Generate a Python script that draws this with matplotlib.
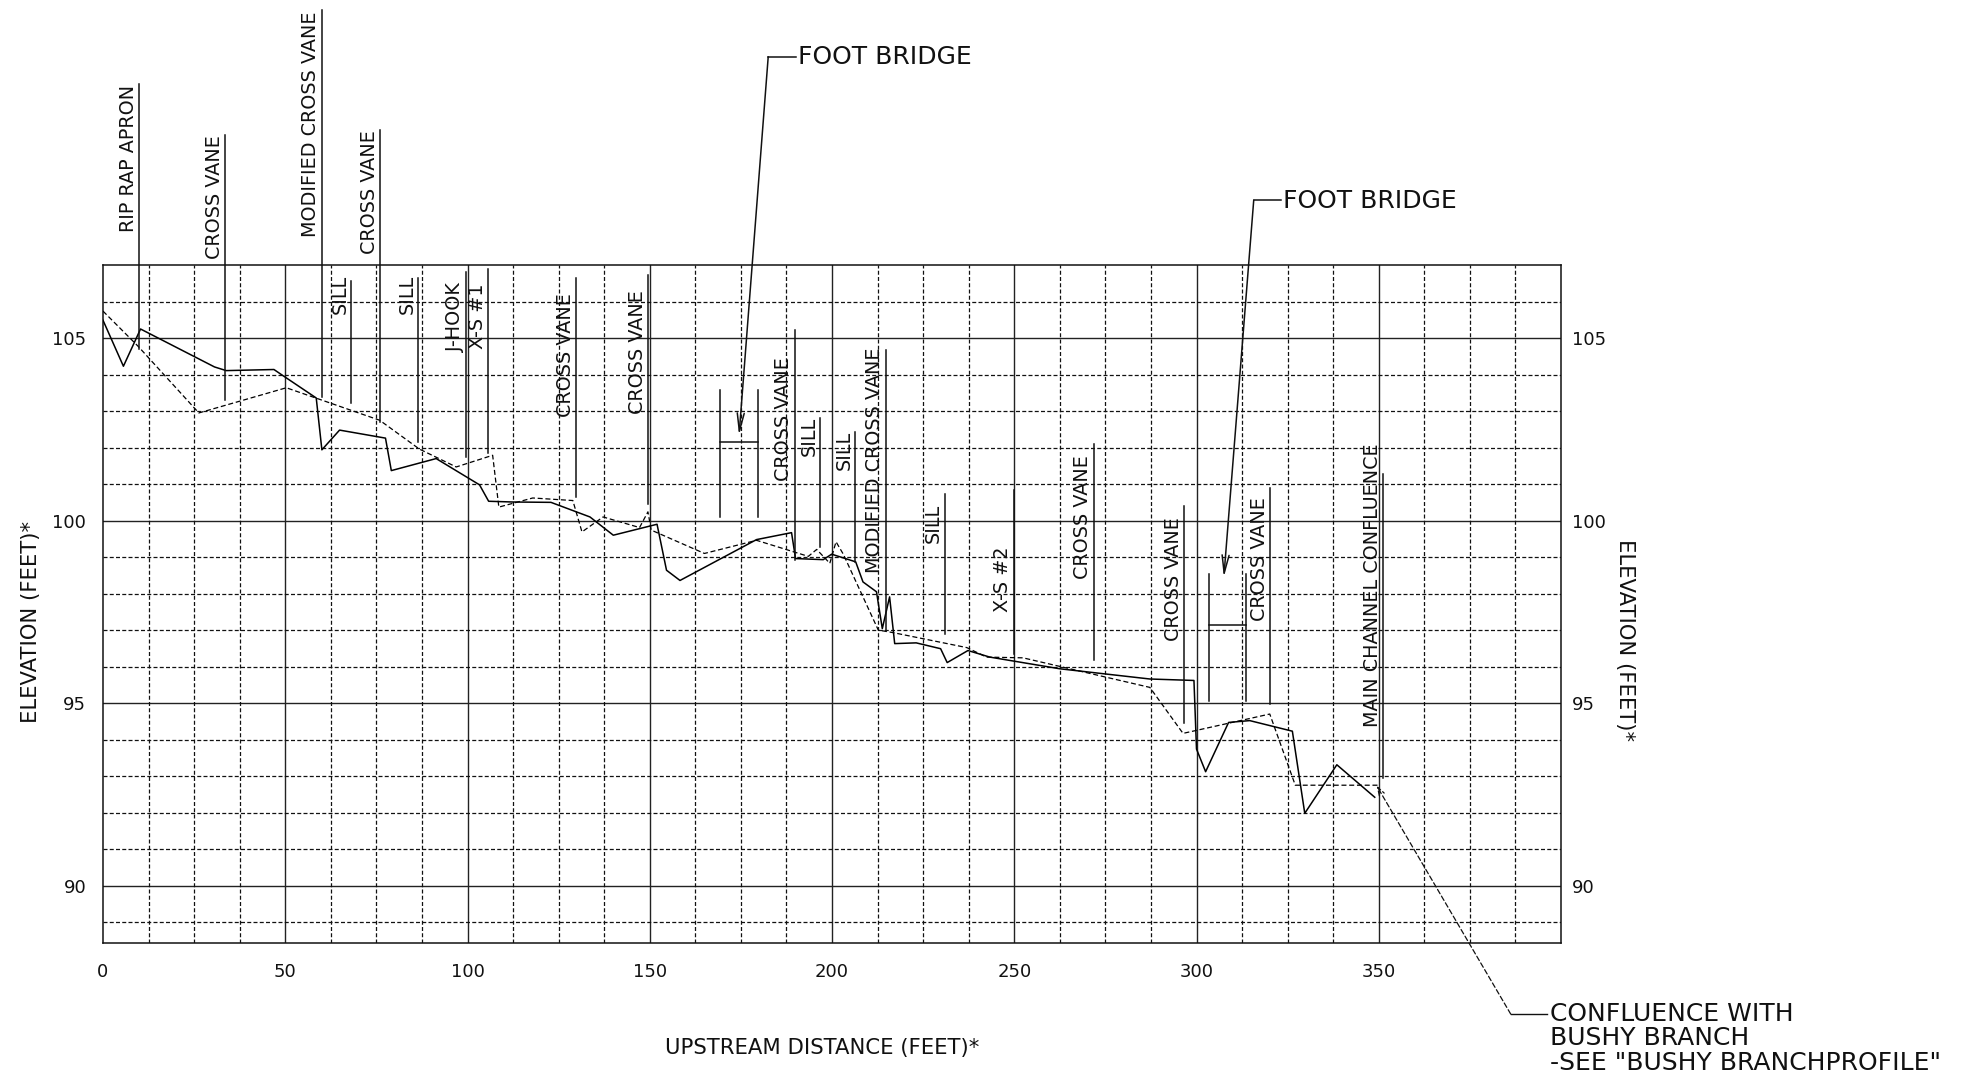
import matplotlib
matplotlib.use("Agg")
import matplotlib.pyplot as plt
import numpy as np

plt.rcParams['font.family'] = ['DejaVu Sans']

# Surveyed (existing) thalweg profile: upstream station (ft) vs elevation (ft)
existing_station = [0, 5.6, 10.3, 30.6, 33.8, 46.9, 49.4, 58.5, 60.05, 64.9,
                    77.5, 79.1, 91.4, 103.3, 105.8, 112.4, 122.9, 133.6, 140.0,
                    152.0, 154.6, 158.3, 179.3, 188.9, 190.0, 197.6, 199.9,
                    206.5, 208.5, 212.2, 213.8, 215.8, 217.2, 223.1, 229.8,
                    231.6, 237.3, 243.3, 262.5, 287.2, 299.3, 300.0, 302.5,
                    308.8, 314.6, 326.3, 329.7, 338.5, 348.9]
existing_elev = [105.50, 104.24, 105.26, 104.22, 104.12, 104.15, 103.98, 103.37,
                 101.95, 102.49, 102.27, 101.38, 101.71, 100.99, 100.54, 100.52,
                 100.51, 100.11, 99.61, 99.91, 98.65, 98.37, 99.49, 99.68, 98.97,
                 98.94, 99.09, 98.88, 98.33, 98.06, 97.05, 97.92, 96.64, 96.66,
                 96.50, 96.12, 96.45, 96.27, 95.95, 95.67, 95.63, 93.75, 93.13,
                 94.48, 94.53, 94.24, 91.99, 93.32, 92.43]

# Design (proposed) profile
proposed_station = [0, 9.6, 26.3, 50.3, 75.9, 86.8, 96.9, 106.9, 108.6, 117.9,
                    128.9, 131.4, 137.2, 147.2, 149.5, 150.4, 165.0, 179.3,
                    193.5, 195.8, 199.4, 201.1, 203.1, 212.7, 216.8, 237.0,
                    242.4, 252.4, 287.2, 296.3, 320.1, 327.1, 350.2]
proposed_elev = [105.75, 104.79, 102.96, 103.65, 102.76, 101.97, 101.48, 101.80,
                 100.38, 100.63, 100.56, 99.70, 100.11, 99.82, 100.25, 99.75,
                 99.11, 99.47, 99.03, 99.22, 98.84, 99.43, 99.09, 97.01, 96.94,
                 96.53, 96.27, 96.25, 95.44, 94.18, 94.71, 92.76, 92.76]

x_tick_values = [0, 50, 100, 150, 200, 250, 300, 350]
y_tick_values = [90, 95, 100, 105]

# In-stream structures and their stations
structure_names = ["RIP RAP APRON", "CROSS VANE", "MODIFIED CROSS VANE", "CROSS VANE",
                   "SILL", "SILL", "J-HOOK", "X-S #1", "CROSS VANE", "CROSS VANE",
                   "CROSS VANE", "SILL", "SILL", "MODIFIED CROSS VANE", "SILL",
                   "X-S #2", "CROSS VANE", "CROSS VANE", "CROSS VANE",
                   "MAIN CHANNEL CONFLUENCE"]
structure_station = [10.0, 33.6, 60.0, 76.0, 68.0, 86.4, 99.6, 105.7, 129.9, 149.6,
                     189.8, 196.8, 206.4, 214.8, 230.9, 249.9, 271.8, 296.6, 320.3,
                     351.2]
# leader extents (elevation) and top of each label
leader_top = [111.96, 110.57, 114.0, 110.71, 106.57, 106.65, 106.83, 106.9, 106.65,
              106.74, 105.23, 102.81, 102.44, 104.68, 100.75, 100.84, 102.12,
              100.4, 100.91, 101.3]
leader_bottom = [104.7, 103.31, 103.4, 102.72, 103.22, 102.17, 101.76, 101.85,
                 100.66, 100.47, 98.92, 99.29, 98.88, 97.0, 96.9, 96.36, 96.18,
                 94.46, 94.99, 92.97]
label_top = [111.96, 110.57, 113.95, 110.71, 106.74, 106.74, 106.51, 106.51, 106.24,
             106.33, 104.5, 102.86, 102.48, 104.74, 100.48, 99.29, 101.8, 100.11,
             100.66, 102.12]

# Foot bridges: span (stations), deck elevation, rail extents
bridge_left = [169.4, 303.4]
bridge_right = [179.7, 313.7]
bridge_deck = [102.17, 97.14]
bridge_low = [100.11, 95.08]
bridge_high = [103.59, 98.54]
# callout: arrow tip, leader elbow, text anchor
bridge_tip = [(174.5, 102.35), (307.5, 98.46)]
bridge_elbow = [(182.5, 112.72), (315.7, 108.79)]
bridge_text = [(190.7, 112.70), (323.7, 108.76)]

fig = plt.figure(figsize=(19.66, 10.8), dpi=100)
ax = fig.add_axes([0.05239, 0.12731, 0.74161, 0.62686])
ax.set_xlim(0, 400)
ax.set_ylim(88.45, 107)

# grid: solid at 50 ft / 5 ft, dashed at 12.5 ft / 1 ft
major_x = np.arange(0, 401, 50)
minor_x = [v for v in np.arange(0, 400.1, 12.5) if v % 50 != 0]
major_y = [90, 95, 100, 105]
minor_y = [v for v in range(89, 107) if v % 5 != 0]
ax.set_xticks(x_tick_values)
ax.set_xticks(minor_x, minor=True)
ax.set_yticks(y_tick_values)
ax.set_yticks(minor_y, minor=True)
for v in major_x[1:-1]:
    ax.axvline(v, color='#222222', lw=1.0, zorder=1)
for v in major_y:
    ax.axhline(v, color='#222222', lw=1.0, zorder=1)
for v in minor_x:
    ax.axvline(v, color='#111111', lw=0.9, ls=(0, (3.2, 1.8)), zorder=1)
for v in minor_y:
    ax.axhline(v, color='#111111', lw=0.9, ls=(0, (3.2, 1.8)), zorder=1)
for s in ax.spines.values():
    s.set_linewidth(1.1)
    s.set_color('#111111')

ax.tick_params(axis='both', which='both', length=0, labelsize=13, colors='#111111')
ax.tick_params(axis='x', pad=15)
ax.tick_params(axis='y', pad=12)
ax.set_xticklabels([str(v) for v in x_tick_values])
ax.set_yticklabels([str(v) for v in y_tick_values])
right = ax.secondary_yaxis('right')
right.set_yticks(y_tick_values)
right.set_yticklabels([str(v) for v in y_tick_values])
right.tick_params(length=0, labelsize=13, pad=8, colors='#111111')
right.spines['right'].set_visible(False)

# profiles
ax.plot(existing_station, existing_elev, color='black', lw=1.1, zorder=3)
ax.plot(proposed_station, proposed_elev, color='black', lw=0.9,
        ls=(0, (4, 2.2)), zorder=3)

# structure labels with leaders
for name, sta, top, bot, ttop in zip(structure_names, structure_station,
                                     leader_top, leader_bottom, label_top):
    ax.plot([sta, sta], [bot, top], color='#111111', lw=1.1, clip_on=False, zorder=4)
    ax.text(sta - 0.4, ttop, name, rotation=90, ha='right', va='top',
            fontsize=13.8, color='#111111', clip_on=False, zorder=5)

# foot bridges
for i in range(len(bridge_left)):
    l, r = bridge_left[i], bridge_right[i]
    ax.plot([l, l], [bridge_low[i], bridge_high[i]], color='#111111', lw=1.1, zorder=4)
    ax.plot([r, r], [bridge_low[i], bridge_high[i]], color='#111111', lw=1.1, zorder=4)
    ax.plot([l, r], [bridge_deck[i], bridge_deck[i]], color='#111111', lw=1.1, zorder=4)
    ex, ey = bridge_elbow[i]
    tx, ty = bridge_text[i]
    ax.plot([ex, tx - 0.6], [ey, ey], color='#111111', lw=1.1, clip_on=False)
    ax.annotate('', xy=bridge_tip[i], xytext=(ex, ey), annotation_clip=False,
                arrowprops=dict(arrowstyle='->,head_length=1.3,head_width=0.25',
                                color='#111111', lw=1.1, shrinkA=0, shrinkB=0))
    ax.text(tx, ty, "FOOT BRIDGE", ha='left', va='center', fontsize=18,
            color='#111111', clip_on=False)

# confluence callout
conf_tip = (349.4, 92.75)
conf_elbow = (386.2, 86.49)
conf_text = (396.9, 86.49)
ax.annotate('', xy=conf_tip, xytext=conf_elbow, annotation_clip=False,
            arrowprops=dict(arrowstyle='->,head_length=0.6,head_width=0.2',
                            color='#111111', lw=0.9, ls=(0, (4, 2.2)),
                            shrinkA=0, shrinkB=0))
ax.plot([conf_elbow[0], conf_text[0] - 0.7], [conf_elbow[1], conf_elbow[1]],
        color='#111111', lw=1.0, clip_on=False)
ax.text(conf_text[0], conf_text[1] + 0.33,
        'CONFLUENCE WITH\nBUSHY BRANCH\n-SEE "BUSHY BRANCHPROFILE"',
        ha='left', va='top', fontsize=18, linespacing=1.02, color='#111111',
        clip_on=False)

# axis titles
fig.text(822 / 1966, 1 - 1048 / 1080, "UPSTREAM DISTANCE (FEET)*", ha='center',
         va='center', fontsize=15.2, color='#111111')
fig.text(31.5 / 1966, 1 - 622 / 1080, "ELEVATION (FEET)*", rotation=90,
         ha='center', va='center', fontsize=15.2, color='#111111')
fig.text(1625 / 1966, 1 - 640 / 1080, "ELEVATION (FEET)*", rotation=-90,
         ha='center', va='center', fontsize=15.2, color='#111111')

fig.savefig("out.png", dpi=100, facecolor='white')
